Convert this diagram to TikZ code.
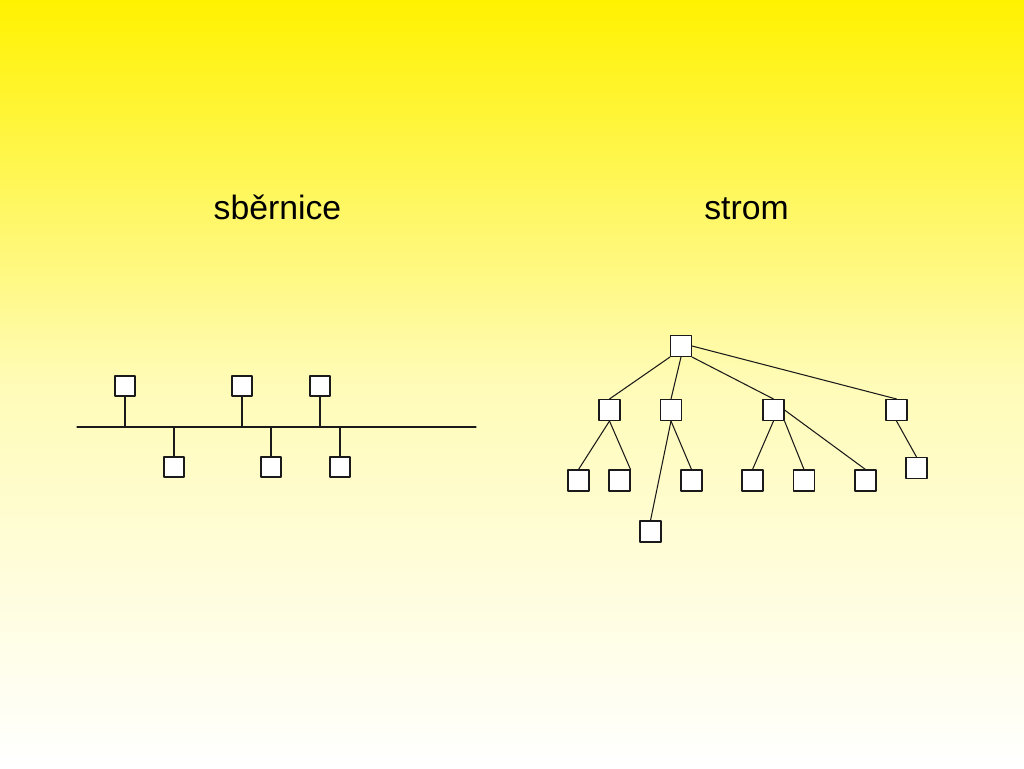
\documentclass[tikz,border=0pt]{standalone}
\usepackage{fontspec}
\setsansfont{Liberation Sans}
\usepackage{xcolor}
\usetikzlibrary{positioning}
\definecolor{slidetop}{HTML}{FFF200}
\definecolor{linkink}{HTML}{1A1A1A}
\begin{document}
\begin{tikzpicture}[
  x=0.02cm,
  y=-0.02cm,
  font=\sffamily,
  line cap=round,
  line join=round,
  link/.style={
    draw=linkink,
    line width=0.6pt
  },
  station/.style={
    rectangle,
    draw=linkink,
    fill=white,
    line width=0.6pt,
    minimum size=0.40cm,
    inner sep=0pt
  },
  treenode/.style={
    station,
    minimum size=0.42cm
  },
  heading/.style={
    anchor=base,
    inner sep=0pt,
    font=\sffamily\fontsize{19.2}{23}\selectfont
  }
]

% ------------------------------------------------------------
% Background
% ------------------------------------------------------------

\shade[top color=slidetop,bottom color=white,middle color=slidetop!28!white]
  (0,0) rectangle (1024,768);
\useasboundingbox (0,0) rectangle (1024,768);

\node[heading] (busTitle) at (277.5,219) {sběrnice};
\node[heading] (treeTitle) at (746.5,219) {strom};

% ------------------------------------------------------------
% Bus: one line, stations above and below
% ------------------------------------------------------------

\coordinate (busL) at (77,427);
\coordinate (busR) at (476,427);
\draw[link] (busL) -- (busR);

\foreach \n/\x in {a/125,b/242,c/320}{
  \node[station] (up\n) at (\x,386) {};
  \draw[link] (up\n.south) -- (up\n.south |- busL);
}

\foreach \n/\x in {a/174,b/271,c/340}{
  \node[station] (dn\n) at (\x,467) {};
  \draw[link] (dn\n.north |- busL) -- (dn\n.north);
}

% ------------------------------------------------------------
% Tree
% ------------------------------------------------------------

\node[treenode] (root) at (681,346) {};

\node[treenode] (c1) at (609.5,410) {};
\node[treenode] (c2) at (671,410) {};
\node[treenode] (c3) at (773.5,410) {};
\node[treenode] (c4) at (896.5,410) {};

\node[treenode] (g1) at (578.5,480.5) {};
\node[treenode] (g2) at (619.5,480.5) {};
\node[treenode] (g3) at (691.5,480.5) {};
\node[treenode] (g4) at (752.5,480.5) {};
\node[treenode] (g5) at (804,480.5) {};
\node[treenode] (g6) at (865.5,480.5) {};
\node[treenode] (g7) at (916.5,468) {};

\node[treenode] (leaf) at (650.5,531.5) {};

\draw[link] (root.south west) -- (c1.north);
\draw[link] (root.south) -- (c2.north);
\draw[link] (root.south east) -- (c3.north);
\draw[link] (root.east) -- (c4.north);

\draw[link] (c1.south) -- (g1.north);
\draw[link] (c1.south) -- (g2.north east);

\draw[link] (c2.south) -- (g3.north);
\draw[link] (c2.south) -- (leaf.north);

\draw[link] (c3.south) -- (g4.north);
\draw[link] (c3.south east) -- (g5.north);
\draw[link] (c3.east) -- (g6.north);

\draw[link] (c4.south) -- (g7.north);
\end{tikzpicture}
\end{document}
